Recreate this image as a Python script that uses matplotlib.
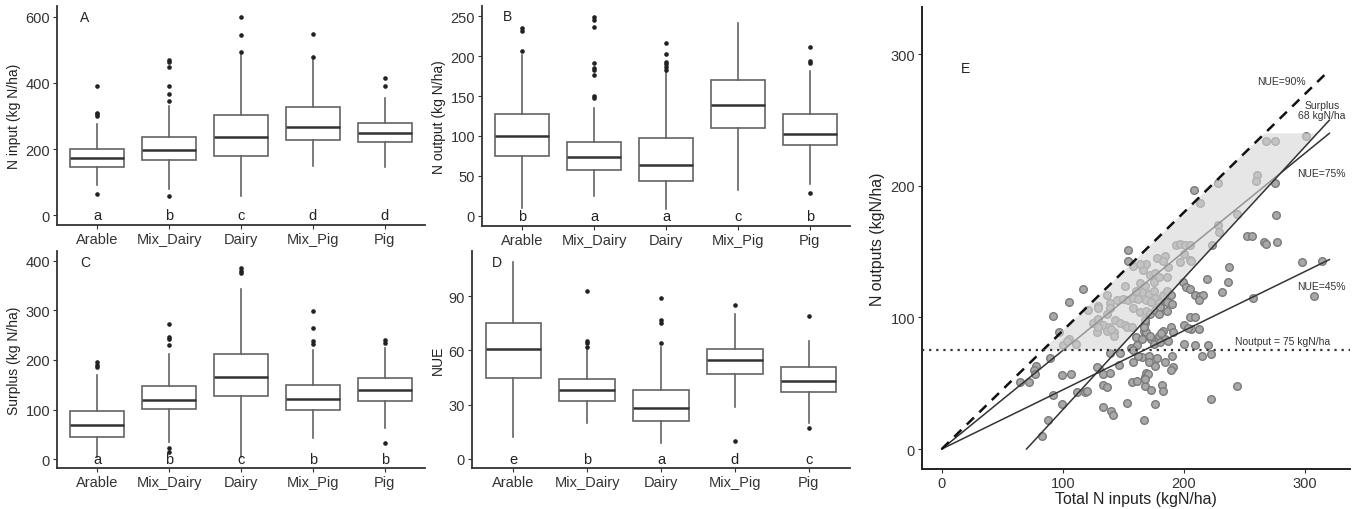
import numpy as np
import matplotlib
matplotlib.use("Agg")
import matplotlib.pyplot as plt

plt.rcParams['font.family'] = ['Liberation Sans', 'DejaVu Sans']

cats = ["Arable", "Mix_Dairy", "Dairy", "Mix_Pig", "Pig"]

# A - N input
nin_q1 = [147, 168, 180, 226, 220]
nin_med = [174, 198, 237, 266, 250]
nin_q3 = [200, 235, 302, 326, 280]
nin_lo = [90, 79, 57, 150, 145]
nin_hi = [275, 330, 485, 470, 355]
nin_fliers = [[63, 300, 305, 310, 390], [57, 345, 368, 392, 447, 462, 470],
              [495, 545, 600], [480, 548], [390, 415]]
let_A = ["a", "b", "c", "d", "d"]

# B - N output
nout_q1 = [75, 57, 44, 110, 88]
nout_med = [100, 73, 64, 139, 102]
nout_q3 = [127, 92, 98, 170, 127]
nout_lo = [10, 25, 8, 32, 40]
nout_hi = [202, 135, 180, 242, 182]
nout_fliers = [[207, 232, 236], [147, 150, 176, 183, 185, 192, 237, 245, 249],
               [183, 187, 190, 193, 203, 216], [], [28, 192, 194, 212]]
let_B = ["b", "a", "a", "c", "b"]

# C - surplus
sur_q1 = [44, 101, 128, 99, 117]
sur_med = [69, 120, 166, 122, 139]
sur_q3 = [97, 148, 212, 150, 163]
sur_lo = [5, 35, 5, 43, 62]
sur_hi = [170, 213, 343, 220, 225]
sur_fliers = [[185, 190, 195], [15, 22, 230, 243, 247, 272], [375, 380, 385],
              [232, 238, 265, 298], [32, 235, 240]]
let_C = ["a", "b", "c", "b", "b"]

# D - NUE
nue_q1 = [45, 32, 21, 47, 37]
nue_med = [61, 38, 28, 55, 43]
nue_q3 = [75, 44, 38, 61, 51]
nue_lo = [12, 20, 9, 29, 20]
nue_hi = [109, 61, 62, 80, 65]
nue_fliers = [[], [62, 64, 65, 93], [64, 75, 77, 89], [10, 85], [17, 79]]
let_D = ["e", "b", "a", "d", "c"]

# E - total N inputs vs N outputs
tin = [301, 268, 275, 260, 259, 275, 208, 228, 213, 276, 244, 228, 229, 252, 256, 266, 268, 277,
       154, 154, 193, 197, 201, 205, 223,
       178, 184, 183, 197, 205, 206, 200, 187, 169, 166, 172, 176, 179, 186, 164, 168, 175,
       165, 171, 175, 176, 183, 186, 169, 173, 179, 186,
       199, 202, 205, 219, 237, 236, 231, 209, 213, 216, 212, 189, 190, 257,
       158, 164, 117, 105, 136, 151, 129, 139, 145, 150, 154, 158, 162, 160,
       92, 121, 129, 139, 128, 133, 143, 147, 151,
       158, 164, 169, 172, 176, 180, 179, 186,
       97, 128, 138, 142, 153, 100, 105, 111, 139, 147, 156, 161, 158, 160, 165, 167, 168,
       89, 78, 76, 77, 65, 72, 99, 107, 130, 133, 139, 146, 133, 136, 112, 118, 120, 92, 99,
       88, 83, 133, 140, 141, 153, 167, 157, 161, 168, 168, 169, 158, 165, 128,
       205, 209, 200, 206, 212, 183, 189, 191, 179, 184, 173, 175, 180, 169, 167, 168, 187,
       200, 209, 220, 215, 222, 190, 184, 178, 171, 191, 189, 170, 168, 173, 182, 183, 176,
       222, 244, 297, 314, 307, 203, 162, 172, 181, 171, 176,
       125, 129, 136, 140, 142, 129, 136, 157, 103]
tout = [238, 234, 234, 208, 204, 202, 197, 202, 187, 178, 179, 170, 165, 162, 162, 157, 156, 157,
        151, 143, 155, 156, 155, 155, 155,
        145, 147, 143, 142, 144, 143, 148, 138, 141, 136, 132, 134, 131, 131, 126, 124, 127,
        119, 118, 120, 115, 117, 120, 113, 112, 111, 112,
        127, 123, 122, 129, 138, 127, 119, 117, 116, 117, 113, 117, 110, 115,
        139, 141, 122, 112, 117, 124, 109, 111, 113, 114, 113, 115, 114, 120,
        101, 106, 107, 107, 98, 94, 98, 96, 94,
        107, 104, 105, 103, 106, 108, 103, 105,
        89, 89, 93, 89, 93, 79, 84, 80, 73, 73, 77, 79, 75, 85, 84, 90, 96,
        69, 63, 60, 57, 51, 51, 56, 57, 61, 57, 58, 64, 49, 47, 43, 43, 44, 41, 34,
        22, 10, 32, 29, 26, 35, 22, 51, 52, 55, 48, 58, 66, 70, 62,
        100, 100, 94, 91, 91, 90, 93, 89, 86, 84, 84, 80, 81, 89, 93, 98, 82,
        80, 79, 79, 71, 72, 71, 66, 69, 71, 62, 60, 57, 53, 45, 49, 44, 34,
        38, 48, 142, 143, 116, 92, 71, 86, 88, 66, 63,
        96, 93, 90, 91, 86, 99, 103, 93, 82]

nue_levels = [0.9, 0.75, 0.45]
nue_text = ["NUE=90%", "NUE=75%", "NUE=45%"]
surplus_lim = 70
nout_lim = 75
nout_top = 240
x_end = 320

fig = plt.figure(figsize=(13.63, 5.10), dpi=100)
W, H = 1363.0, 510.0


def box_panel(rect, q1, med, q3, lo, hi, fl, letters, ylab, tag, tagpos, ylim, yticks):
    ax = fig.add_axes(rect)
    stats = []
    for i in range(len(cats)):
        stats.append(dict(med=med[i], q1=q1[i], q3=q3[i], whislo=lo[i], whishi=hi[i], fliers=fl[i]))
    ax.bxp(stats, positions=range(1, 6), widths=0.75, showcaps=False, patch_artist=True,
           boxprops=dict(facecolor="white", edgecolor="#646464", linewidth=1.2),
           whiskerprops=dict(color="#646464", linewidth=1.2),
           medianprops=dict(color="#333333", linewidth=1.8),
           flierprops=dict(marker="o", markersize=2.3, markerfacecolor="#222222",
                           markeredgecolor="#222222"))
    for i, l in enumerate(letters):
        ax.text(i + 1, 0, l, ha="center", va="center", fontsize=10.5, color="#222222")
    ax.text(tagpos[0], tagpos[1], tag, ha="center", va="center", fontsize=10, color="#222222")
    ax.set_xlim(0.44, 5.56)
    ax.set_ylim(ylim)
    ax.set_yticks(yticks)
    ax.set_xticks(range(1, 6))
    ax.set_xticklabels(cats)
    ax.set_ylabel(ylab, fontsize=10, color="#222222", labelpad=3)
    for s in ["top", "right"]:
        ax.spines[s].set_visible(False)
    for s in ["left", "bottom"]:
        ax.spines[s].set_color("#333333")
        ax.spines[s].set_linewidth(1.3)
    ax.tick_params(labelsize=10.5, colors="#333333", length=3, pad=2)
    return ax


box_panel([57 / W, (H - 226) / H, 368 / W, 219 / H], nin_q1, nin_med, nin_q3, nin_lo, nin_hi,
          nin_fliers, let_A, "N input (kg N/ha)", "A", (0.82, 600), (-30, 633), [0, 200, 400, 600])
box_panel([482 / W, (H - 227) / H, 368 / W, 220 / H], nout_q1, nout_med, nout_q3, nout_lo, nout_hi,
          nout_fliers, let_B, "N output (kg N/ha)", "B", (0.8, 251), (-13, 263),
          [0, 50, 100, 150, 200, 250])
box_panel([57 / W, (H - 469) / H, 368 / W, 217 / H], sur_q1, sur_med, sur_q3, sur_lo, sur_hi,
          sur_fliers, let_C, "Surplus (kg N/ha)", "C", (0.83, 398), (-18, 420), [0, 100, 200, 300, 400])
box_panel([472 / W, (H - 469) / H, 378 / W, 217 / H], nue_q1, nue_med, nue_q3, nue_lo, nue_hi,
          nue_fliers, let_D, "NUE", "D", (0.78, 109), (-5, 115), [0, 30, 60, 90])

# panel E
ax = fig.add_axes([922 / W, (H - 470) / H, 428 / W, 462 / H])
ax.scatter(tin, tout, s=30, c="#a8a8a8", edgecolors="#7a7a7a", linewidths=1, zorder=2)
xs = np.array([0, x_end])
ax.plot(xs, nue_levels[1] * xs, color="#333333", lw=1.1, zorder=3)
ax.plot(xs, nue_levels[2] * xs, color="#333333", lw=1.1, zorder=3)
poly_x = [nout_lim / nue_levels[0], nout_top / nue_levels[0], nout_top + surplus_lim, nout_lim + surplus_lim]
poly_y = [nout_lim, nout_top, nout_top, nout_lim]
ax.fill(poly_x, poly_y, color="#d6d6d6", alpha=0.6, lw=0, zorder=4)
ax.plot(xs, nue_levels[0] * xs, color="#111111", lw=1.8, ls=(0, (4, 3)), zorder=5)
ax.plot([surplus_lim, x_end], [0, x_end - surplus_lim], color="#333333", lw=1.1, zorder=5)
ax.axhline(nout_lim, color="#333333", lw=1.6, ls=(0, (1, 2.2)), zorder=5)

ax.text(260, 280, nue_text[0], fontsize=7.5, color="#333333", ha="left", va="center")
ax.text(314, 258, "Surplus\n68 kgN/ha", fontsize=7.5, color="#333333", ha="center", va="center",
        linespacing=1.0)
ax.text(313, 210, nue_text[1], fontsize=7.5, color="#333333", ha="center", va="center")
ax.text(313, 124, nue_text[2], fontsize=7.5, color="#333333", ha="center", va="center")
ax.text(281, 82, "Noutput = " + str(nout_lim) + " kgN/ha", fontsize=7.5, color="#333333",
        ha="center", va="center")
ax.text(20, 290, "E", fontsize=10, color="#222222", ha="center", va="center")

ax.set_xlim(-16.3, 337)
ax.set_ylim(-15.2, 336)
ax.set_xticks([0, 100, 200, 300])
ax.set_yticks([0, 100, 200, 300])
ax.set_xlabel("Total N inputs (kgN/ha)", fontsize=11.4, color="#222222", labelpad=1)
ax.set_ylabel("N outputs (kgN/ha)", fontsize=11.4, color="#222222")
for s in ["top", "right"]:
    ax.spines[s].set_visible(False)
for s in ["left", "bottom"]:
    ax.spines[s].set_color("#222222")
    ax.spines[s].set_linewidth(1.4)
ax.tick_params(labelsize=10.5, colors="#333333", length=3, pad=2)

fig.savefig("out.png", dpi=100)
